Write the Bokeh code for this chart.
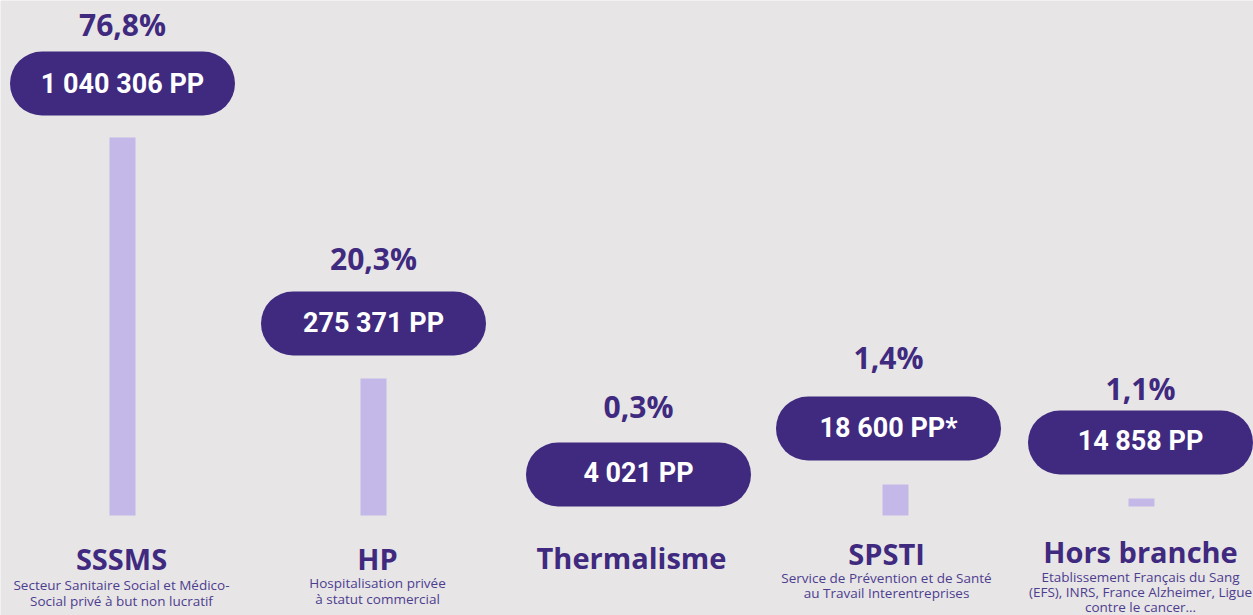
from bokeh.plotting import figure
from bokeh.models import Range1d
from bokeh.core.properties import value
from bokeh.embed import file_html
from bokeh.resources import INLINE

# ---------------- data ----------------
categories = ["SSSMS", "HP", "Thermalisme", "SPSTI", "Hors branche"]
shares = ["76,8%", "20,3%", "0,3%", "1,4%", "1,1%"]
headcounts = ["1 040 306 PP", "275 371 PP", "4 021 PP", "18 600 PP*", "14 858 PP"]
descriptions = [
    ["Secteur Sanitaire Social et Médico-", "Social privé à but non lucratif"],
    ["Hospitalisation privée", "à statut commercial"],
    [],
    ["Service de Prévention et de Santé", "au Travail Interentreprises"],
    ["Etablissement Français du Sang", "(EFS), INRS, France Alzheimer, Ligue", "contre le cancer…"],
]
bar_top = [378, 137, 0, 31, 17]
bar_bottom = [0, 0, 0, 0, 9]

# ---------------- layout / style ----------------
BG = "#e7e5e6"
PURPLE = "#3f2a7f"
BAR = "#c4b8e9"
SUB = "#4d3d8f"

pill_x = [122, 373, 638, 888, 1140]
pill_y = [432, 192, 41, 87, 73]
bar_x = [122, 373, 638, 895, 1141]
pct_base = [480, 246, 98, 147, 116]
pp_base = [422, 183, 33, 78, 65]
title_x = [121, 377, 631, 886, 1140]
title_base = [-53, -53, -52, -48, -46]
desc_base = [-74, -72, 0, -67, -66]
desc_gap = [16, 16, 16, 15.5, 15]
PILL_W, PILL_H = 225, 64
K = 0.36  # baseline correction (fraction of font size)

p = figure(width=1253, height=615, x_range=Range1d(0, 1253), y_range=Range1d(-100, 515),
           toolbar_location=None, output_backend="svg", min_border=0,
           x_axis_location=None, y_axis_location=None,
           background_fill_color=BG, border_fill_color=BG, outline_line_color=None)
p.grid.visible = False

# bars
p.vbar(x=bar_x, width=26, top=bar_top, bottom=bar_bottom, fill_color=BAR, line_color=None)

# pills
p.quad(left=[x - PILL_W / 2 for x in pill_x], right=[x + PILL_W / 2 for x in pill_x],
       bottom=[y - PILL_H / 2 for y in pill_y], top=[y + PILL_H / 2 for y in pill_y],
       border_radius=32, fill_color=PURPLE, line_color=None)

# headcount text in pills
fs = 27
p.text(x=pill_x, y=[b + K * fs for b in pp_base], text=headcounts, text_color="white",
       text_font=value("Roboto"), text_font_style="bold",
       text_font_size=value(f"{fs}px"), text_align="center", text_baseline="alphabetic")

# share labels
fs = 30
p.text(x=pill_x, y=[b + K * fs for b in pct_base], text=shares, text_color=PURPLE,
       text_font=value("Open Sans"), text_font_style="bold",
       text_font_size=value(f"{fs}px"), text_align="center", text_baseline="alphabetic")

# category titles
fs = 29
p.text(x=title_x, y=[b + K * fs for b in title_base], text=categories, text_color=PURPLE,
       text_font=value("Open Sans"), text_font_style="bold",
       text_font_size=value(f"{fs}px"), text_align="center", text_baseline="alphabetic")

# descriptions
fs = 13.5
dx, dy, dt = [], [], []
for i, lines in enumerate(descriptions):
    for j, line in enumerate(lines):
        dx.append(title_x[i])
        dy.append(desc_base[i] - desc_gap[i] * j + K * fs)
        dt.append(line)
p.text(x=dx, y=dy, text=dt, text_color=SUB, text_font=value("Open Sans"),
       text_font_size=value(f"{fs}px"), text_align="center", text_baseline="alphabetic")

open("out.html", "w").write(file_html(p, INLINE))
